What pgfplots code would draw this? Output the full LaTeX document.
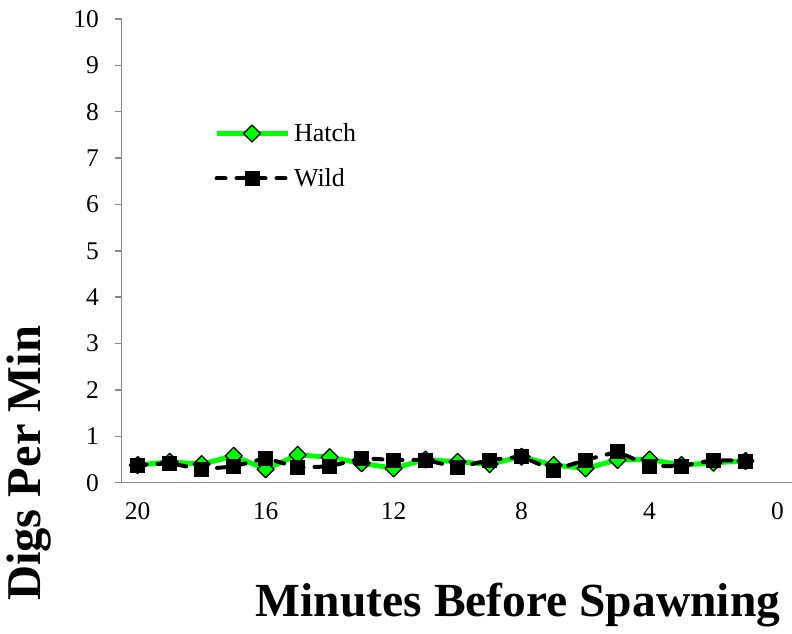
\documentclass[border=0pt]{standalone}
\usepackage{pgfplots}
\usepackage{pgfplotstable}
\pgfplotsset{compat=1.18}
\usepackage{fontspec}
\setmainfont{Liberation Serif}
\definecolor{hgreen}{RGB}{0,255,0}
\definecolor{axgray}{RGB}{134,134,134}

\pgfplotstableread{
min hatch wild
20 0.38 0.38
19 0.45 0.42
18 0.40 0.29
17 0.58 0.35
16 0.29 0.53
15 0.60 0.33
14 0.55 0.35
13 0.42 0.53
12 0.31 0.49
11 0.50 0.49
10 0.45 0.33
9 0.40 0.49
8 0.56 0.56
7 0.38 0.27
6 0.31 0.49
5 0.49 0.67
4 0.50 0.36
3 0.38 0.36
2 0.43 0.49
1 0.47 0.47
}\digs

\begin{document}
\begin{tikzpicture}[x=1pt,y=1pt]
\path[use as bounding box] (0,0) rectangle (792,633);
\begin{axis}[
  at={(121.7pt,150.3pt)}, anchor=south west,
  scale only axis, width=671.8pt, height=463.7pt,
  xmin=-20.5, xmax=0.5, ymin=0, ymax=10,
  axis x line*=bottom, axis y line*=left,
  axis line style={axgray, line width=1.5pt, -},
  xtick={-20,-16,-12,-8,-4,0},
  xticklabels={20,16,12,8,4,0},
  minor xtick={-20.5,-19.5,...,0.5},
  ytick={0,1,...,10},
  tick align=outside,
  major tick length=7pt, minor tick length=6pt,
  xtick style={draw=none},
  every tick/.style={axgray, line width=1.5pt},
  minor tick style={axgray, line width=1.5pt},
  major y tick style={axgray, line width=1.5pt},
  /pgf/number format/assume math mode=true,
  tick label style={font=\fontsize{25.5}{30}\selectfont, inner sep=0pt},
  yticklabel style={anchor=east, xshift=-15.7pt},
  xticklabel style={anchor=north, yshift=-13pt},
  xlabel={Minutes Before Spawning},
  ylabel={Digs Per Min},
  xlabel style={font=\fontsize{47.5}{50}\selectfont\bfseries, at={(axis description cs:0.59,-0.2875)}, anchor=base, inner sep=0pt},
  ylabel style={font=\fontsize{48.5}{50}\selectfont\bfseries, at={(axis description cs:-0.1216,0.0416)}, anchor=base, inner sep=0pt},
  legend style={draw=none, fill=none, at={(axis description cs:0.1374,0.774)}, anchor=north west,
    inner sep=0pt, outer sep=0pt, font=\fontsize{26}{30}\selectfont, row sep=25.3pt, column sep=4pt,
    nodes={inner sep=0pt}},
  legend cell align=left,
  legend image code/.code={\draw[mark repeat=2,mark phase=2,#1] plot coordinates {(0pt,0pt) (35.5pt,0pt) (71pt,0pt)};},
  clip=false,
]
\addplot[color=hgreen, line width=5pt, line join=round, mark=square*, mark size=6pt,
  mark options={solid, rotate=45, fill=hgreen, draw=black, line width=1.3pt}]
  table[x expr=-\thisrow{min}, y=hatch]{\digs};
\addlegendentry{Hatch}
\addplot[color=black, line width=4pt, line cap=round, dash pattern=on 9pt off 11pt, mark=square*, mark size=7pt,
  mark options={solid, fill=black, draw=black, line width=0.5pt}]
  table[x expr=-\thisrow{min}, y=wild]{\digs};
\addlegendentry{Wild}
\end{axis}
\end{tikzpicture}
\end{document}
